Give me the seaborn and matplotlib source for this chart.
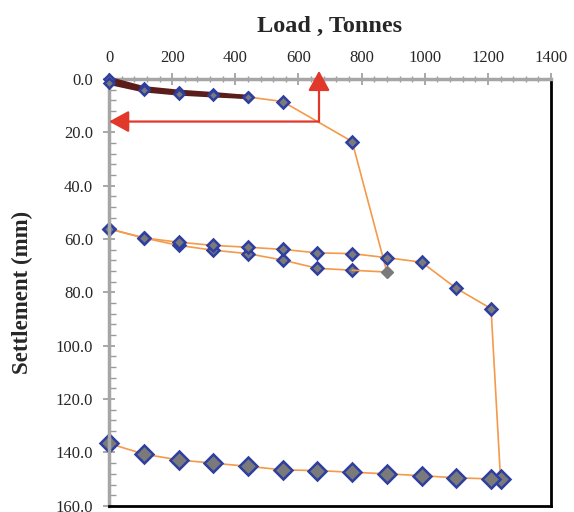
import numpy as np
import pandas as pd
import seaborn as sns
import matplotlib.pyplot as plt
from matplotlib.ticker import MultipleLocator, FormatStrFormatter

sns.set_style('white')
plt.rcParams['font.family'] = ['Liberation Serif', 'DejaVu Serif']

#_____ data (load in tonnes, settlement in mm)
load_c1 = [0, 110, 220, 330, 440]
settle_c1_up = [0.0, 3.5, 4.8, 5.7, 6.8]
settle_c1_down = [1.5, 4.3, 5.5, 6.2, 6.8]

load_virgin = [440, 550, 770, 880]
settle_virgin = [6.8, 8.5, 23.5, 72.4]

load_unload2 = [880, 770, 660, 550, 440, 330, 220, 110, 0]
settle_unload2 = [72.4, 71.7, 71.0, 67.9, 65.5, 64.2, 62.4, 59.6, 56.2]

load_reload = [0, 110, 220, 330, 440, 550, 660, 770, 880, 990, 1100, 1210, 1240]
settle_reload = [56.2, 59.6, 61.2, 62.4, 63.1, 63.9, 65.2, 65.5, 67.0, 68.7, 78.5, 86.1, 149.9]

load_unload3 = [1240, 1210, 1100, 990, 880, 770, 660, 550, 440, 330, 220, 110, 0]
settle_unload3 = [149.9, 149.9, 149.5, 148.7, 148.0, 147.4, 146.8, 146.5, 145.2, 144.0, 142.8, 140.6, 136.6]

arrow_load = 665
arrow_settle = 16.0

orange = '#f5994a'
brown = '#5b1d1a'
blue = '#2e3f9f'
grey = '#7a7a7a'
red = '#e2372b'

fig = plt.figure(figsize=(5.74, 5.12), dpi=100)
ax = fig.add_axes([0.19, 0.012, 0.77, 0.834])

mk = dict(marker='D', markerfacecolor=grey, markeredgecolor=blue, markeredgewidth=1.8,
          clip_on=False)

# first cycle (load + unload overlapping)
sns.lineplot(x=load_c1, y=settle_c1_up, sort=False, estimator=None, ax=ax,
             color=brown, lw=3, markersize=5, zorder=3, **mk)
sns.lineplot(x=load_c1[::-1], y=settle_c1_down[::-1], sort=False, estimator=None, ax=ax,
             color=brown, lw=3, markersize=5, zorder=3, **mk)

# virgin loading beyond the first cycle
sns.lineplot(x=load_virgin, y=settle_virgin, sort=False, estimator=None, ax=ax,
             color=orange, lw=1.2, markersize=6.5, markevery=[1, 2], zorder=2, **mk)
ax.plot(load_virgin[-1], settle_virgin[-1], marker='D', ms=6, color=grey, mec=grey, zorder=4)

# second unload / reload
sns.lineplot(x=load_unload2[1:], y=settle_unload2[1:], sort=False, estimator=None, ax=ax,
             color=orange, lw=1.2, markersize=6.5, zorder=2, **mk)
ax.plot(load_unload2[:2], settle_unload2[:2], color=orange, lw=1.2, zorder=2)
sns.lineplot(x=load_reload, y=settle_reload, sort=False, estimator=None, ax=ax,
             color=orange, lw=1.2, markersize=6.5, markevery=list(range(12)), zorder=2, **mk)

# final unload
sns.lineplot(x=load_unload3, y=settle_unload3, sort=False, estimator=None, ax=ax,
             color=orange, lw=1.2, markersize=9, zorder=2, **mk)

# red arrows
arr = dict(arrowstyle='-|>,head_length=0.55,head_width=0.3', color=red, lw=1.6,
           mutation_scale=22, shrinkA=0, shrinkB=0)
ax.annotate('', xy=(0, arrow_settle), xytext=(arrow_load, arrow_settle),
            arrowprops=arr, annotation_clip=False, zorder=5)
ax.annotate('', xy=(arrow_load, -3.0), xytext=(arrow_load, arrow_settle),
            arrowprops=arr, annotation_clip=False, zorder=5)

ax.set_xlim(0, 1400)
ax.set_ylim(160, 0)
ax.xaxis.tick_top()
ax.xaxis.set_label_position('top')
ax.xaxis.set_major_locator(MultipleLocator(200))
ax.xaxis.set_minor_locator(MultipleLocator(40))
ax.yaxis.set_major_locator(MultipleLocator(20))
ax.yaxis.set_minor_locator(MultipleLocator(4))
ax.yaxis.set_major_formatter(FormatStrFormatter('%.1f'))

ax.tick_params(axis='x', which='major', direction='inout', length=8, width=1.2,
               color='#9a9a9a', labelsize=12, pad=5)
ax.tick_params(axis='x', which='minor', direction='inout', length=5, width=1,
               color='#9a9a9a', top=True)
ax.tick_params(axis='y', which='major', direction='inout', length=9, width=1.2,
               color='#9a9a9a', labelsize=12, left=True, pad=7)
ax.tick_params(axis='y', which='minor', direction='in', length=5, width=1,
               color='#9a9a9a', left=True)

for side in ['left', 'top']:
    ax.spines[side].set_color('#a6a6a6')
    ax.spines[side].set_linewidth(2.5)
for side in ['right', 'bottom']:
    ax.spines[side].set_color('black')
    ax.spines[side].set_linewidth(2)

ax.set_xlabel('Load , Tonnes', fontsize=17.5, fontweight='bold', labelpad=13)
ax.set_ylabel('Settlement (mm)', fontsize=16.5, fontweight='bold', labelpad=16)

fig.savefig('out.png', dpi=100)
